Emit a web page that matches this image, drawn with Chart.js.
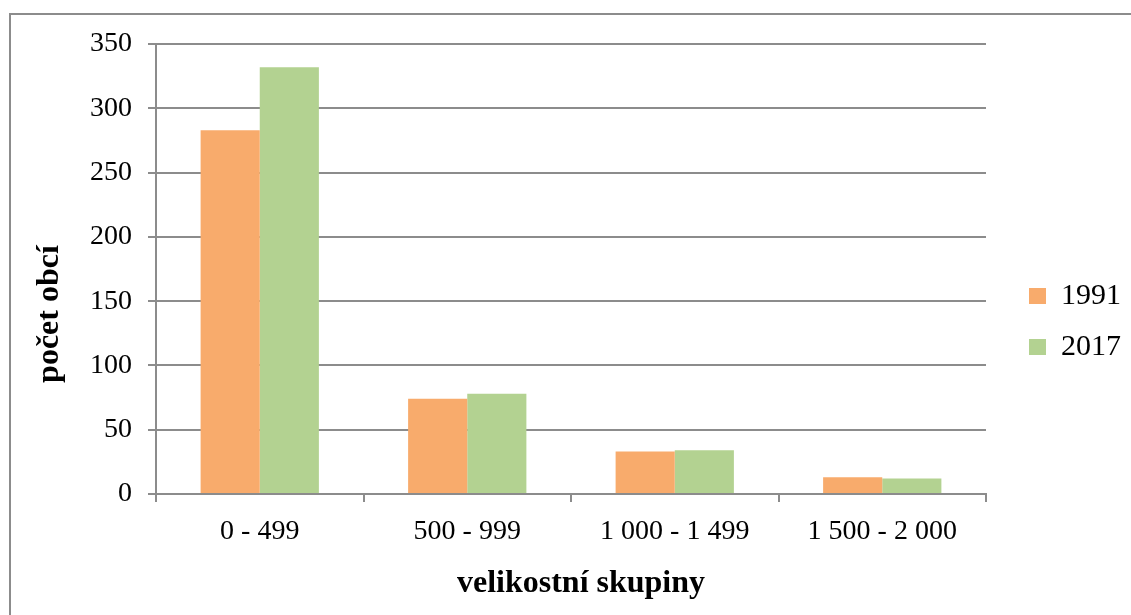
<!DOCTYPE html>
<html>
<head>
<meta charset="utf-8">
<script src="https://cdn.jsdelivr.net/npm/chart.js@4/dist/chart.umd.min.js"></script>
<style>
  html, body { margin: 0; padding: 0; background: #ffffff; overflow: hidden; }
  #wrap { position: relative; width: 1131px; height: 615px; }
  canvas { position: absolute; left: 0; top: 0; }
</style>
</head>
<body>
<div id="wrap"><canvas id="c" width="1131" height="615"></canvas></div>
<script>
const categories = ['0 - 499', '500 - 999', '1 000 - 1 499', '1 500 - 2 000'];
const seriesNames = ['1991', '2017'];
const values1991 = [283, 74, 33, 13];
const values2017 = [332, 78, 34, 12];
const yTickValues = [0, 50, 100, 150, 200, 250, 300, 350];
const xAxisTitle = 'velikostní skupiny';
const yAxisTitle = 'počet obcí';

const GRID = '#8c8c8c';
const SERIF = '"Liberation Serif", "Times New Roman", serif';

const frameAndTitles = {
  id: 'frameAndTitles',
  beforeDraw(chart) {
    const ctx = chart.ctx;
    ctx.save();
    ctx.fillStyle = '#ffffff';
    ctx.fillRect(0, 0, chart.width, chart.height);
    ctx.strokeStyle = GRID;
    ctx.lineWidth = 2;
    ctx.beginPath();
    ctx.moveTo(10, chart.height + 5);
    ctx.lineTo(10, 14);
    ctx.lineTo(chart.width + 5, 14);
    ctx.stroke();
    ctx.restore();
  },
  afterDraw(chart) {
    const ctx = chart.ctx;
    const area = chart.chartArea;
    ctx.save();
    ctx.fillStyle = '#000000';
    ctx.font = 'bold 32px ' + SERIF;
    ctx.textAlign = 'center';
    ctx.textBaseline = 'alphabetic';
    ctx.fillText(xAxisTitle, (area.left + area.right) / 2 + 10, 592);
    ctx.translate(58, (area.top + area.bottom) / 2 + 45);
    ctx.rotate(-Math.PI / 2);
    ctx.fillText(yAxisTitle, 0, 0);
    ctx.restore();
  }
};

new Chart(document.getElementById('c'), {
  type: 'bar',
  data: {
    labels: categories,
    datasets: [
      { label: seriesNames[0], data: values1991, backgroundColor: '#F8AB6C', borderWidth: 0,
        categoryPercentage: 0.57, barPercentage: 1.0 },
      { label: seriesNames[1], data: values2017, backgroundColor: '#B3D291', borderWidth: 0,
        categoryPercentage: 0.57, barPercentage: 1.0 }
    ]
  },
  options: {
    responsive: false,
    animation: false,
    devicePixelRatio: 1,
    layout: { padding: { top: 44, bottom: 16, left: 0, right: 0 } },
    plugins: {
      tooltip: { enabled: false },
      legend: {
        position: 'right',
        align: 'center',
        labels: {
          color: '#000000',
          font: { family: SERIF, size: 30 },
          boxWidth: 17,
          boxHeight: 16,
          padding: 21
        }
      }
    },
    scales: {
      x: {
        type: 'category',
        offset: true,
        grid: {
          display: true,
          drawOnChartArea: false,
          drawTicks: true,
          tickLength: 8,
          offset: true,
          color: GRID,
          lineWidth: 2
        },
        border: { display: true, color: GRID, width: 2 },
        ticks: {
          color: '#000000',
          font: { family: SERIF, size: 28 },
          padding: 13,
          maxRotation: 0,
          autoSkip: false
        },
        afterFit(scale) { scale.height = 105; }
      },
      y: {
        type: 'linear',
        position: 'left',
        min: 0,
        max: 350,
        afterBuildTicks(scale) { scale.ticks = yTickValues.map(v => ({ value: v })); },
        grid: {
          display: true,
          drawTicks: true,
          tickLength: 8,
          color: GRID,
          lineWidth: 2
        },
        border: { display: true, color: GRID, width: 2 },
        ticks: {
          color: '#000000',
          font: { family: SERIF, size: 28 },
          padding: 16
        },
        afterFit(scale) { scale.width = 156; }
      },
      ySpacer: {
        type: 'linear',
        position: 'right',
        display: true,
        grid: { display: false, drawTicks: false },
        border: { display: false },
        ticks: { display: false },
        afterFit(scale) { scale.width = 22; }
      }
    }
  },
  plugins: [frameAndTitles]
});
</script>
</body>
</html>
